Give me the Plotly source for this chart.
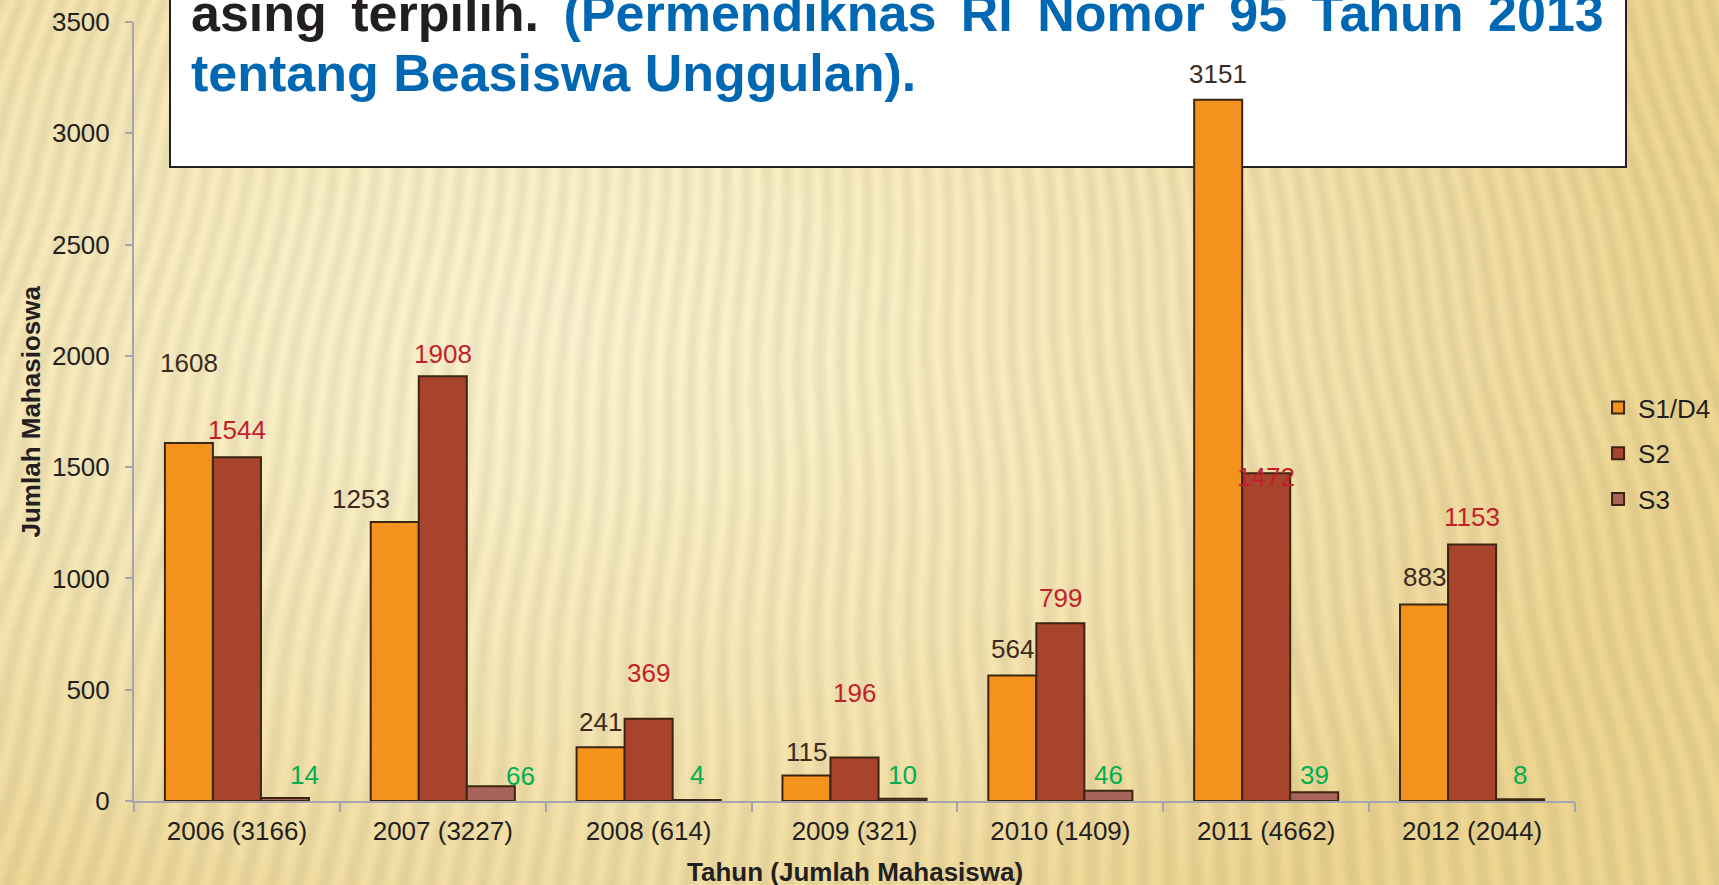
import numpy as np
import plotly.graph_objects as go
import zlib, struct, base64

# ---------------- data ----------------
categories = ["2006 (3166)", "2007 (3227)", "2008 (614)", "2009 (321)",
              "2010 (1409)", "2011 (4662)", "2012 (2044)"]
s1_d4 = [1608, 1253, 241, 115, 564, 3151, 883]
s2 = [1544, 1908, 369, 196, 799, 1472, 1153]
s3 = [14, 66, 4, 10, 46, 39, 8]
series_names = ["S1/D4", "S2", "S3"]
y_ticks = [0, 500, 1000, 1500, 2000, 2500, 3000, 3500]

# ---------------- style ----------------
W, H = 1719, 885
ML, MR, MT, MB = 134, 144, 22, 84
PW, PH = W - ML - MR, H - MT - MB
FONT = "Liberation Sans, Arial, sans-serif"
bar_colors = ["#F3931E", "#A8442B", "#A8645A"]
label_colors = ["#3D2B1F", "#C21F2C", "#00B050"]
outline = "#3A2612"
# label offsets (px) relative to bar top / bar centre
label_dy = [[80, 23, 25, 23, 26, 26, 27],
            [27, 22, 46, 64, 25, -4, 27],
            [23, 10, 25, 24, 16, 17, 24]]
label_dx = [[0, -34, 0, 0, 0, 0, 0],
            [0, 0, 0, 0, 0, 0, 0],
            [20, 30, 0, 0, 0, 0, 0]]


def png_data_uri(arr):
    h, w, _ = arr.shape
    raw = arr.astype(np.int16)
    sub = raw.copy()
    sub[:, 1:, :] = raw[:, 1:, :] - raw[:, :-1, :]
    sub = (sub % 256).astype(np.uint8).reshape(h, w * 3)
    rows = np.hstack([np.ones((h, 1), np.uint8), sub])
    data = zlib.compress(rows.tobytes(), 9)

    def chunk(t, d):
        return struct.pack(">I", len(d)) + t + d + struct.pack(">I", zlib.crc32(t + d) & 0xffffffff)

    ihdr = struct.pack(">IIBBBBB", w, h, 8, 2, 0, 0, 0)
    png = b"\x89PNG\r\n\x1a\n" + chunk(b"IHDR", ihdr) + chunk(b"IDAT", data) + chunk(b"IEND", b"")
    return "data:image/png;base64," + base64.b64encode(png).decode()


# striped paper-like background texture
step = 2
xs = np.arange(0, W, step, dtype=float)
ys = np.arange(0, H, step, dtype=float)
X, Y = np.meshgrid(xs, ys)
fx, fy = 860.0, -2600.0
theta = np.arctan2(X - fx, Y - fy)
stripe = 0.5 + 0.5 * np.sin(theta * 860 + 0.9 * np.sin(Y / 45.0) + 0.6 * np.sin(X / 130.0))
d = np.hypot((X - 560) / 1150.0, (Y - 320) / 720.0)
t = np.clip(d, 0, 1) ** 1.4
light = np.array([252, 243, 206], float)
dark = np.array([239, 215, 146], float)
col = light[None, None, :] * (1 - t[..., None]) + dark[None, None, :] * t[..., None]
col = col * (1 - 0.06 * stripe[..., None])
bg = np.clip(col, 0, 255).astype(np.uint8)
bg_uri = png_data_uri(bg)

fig = go.Figure()
for i, (name, vals) in enumerate(zip(series_names, [s1_d4, s2, s3])):
    fig.add_trace(go.Bar(
        x=categories, y=vals, name=name, legendgroup=name,
        marker=dict(color=bar_colors[i], line=dict(color=outline, width=2)),
        hoverinfo="x+y+name",
    ))

# data labels
cat_px = PW / len(categories)
bar_w = cat_px * 0.7 / 3
for i, vals in enumerate([s1_d4, s2, s3]):
    off = (i - 1) * bar_w
    for j, v in enumerate(vals):
        fig.add_annotation(
            x=categories[j], y=v, xref="x", yref="y", text=str(v), showarrow=False,
            xshift=off + label_dx[i][j], yshift=label_dy[i][j],
            xanchor="center", yanchor="middle",
            font=dict(family=FONT, size=26, color=label_colors[i]),
        )


def px_x(p):
    return (p - ML) / PW


def px_y(p):
    return (H - MB - p) / PH


# white text box at top
fig.add_shape(type="rect", xref="paper", yref="paper",
              x0=px_x(170), x1=px_x(1626), y0=px_y(167), y1=px_y(-20),
              fillcolor="white", line=dict(color="#222222", width=2), layer="below")

fig.add_annotation(
    xref="paper", yref="paper", x=px_x(189), y=px_y(13), xanchor="left", yanchor="middle",
    showarrow=False,
    text="<b><span style='word-spacing:10px'>asing terpilih. </span>"
         "<span style='color:#0068B3;word-spacing:10px'>(Permendiknas RI Nomor 95 Tahun 2013</span></b>",
    font=dict(family=FONT, size=52, color="#231F20"),
)
fig.add_annotation(
    xref="paper", yref="paper", x=px_x(189), y=px_y(73), xanchor="left", yanchor="middle",
    showarrow=False,
    text="<b>tentang Beasiswa Unggulan).</b>",
    font=dict(family=FONT, size=52, color="#0068B3"),
)

# axis titles
fig.add_annotation(
    xref="paper", yref="paper", x=px_x(30), y=0.5, xanchor="center", yanchor="middle",
    showarrow=False, textangle=-90, text="<b>Jumlah Mahasioswa</b>",
    font=dict(family=FONT, size=26, color="#231F20"),
)
fig.add_annotation(
    xref="paper", yref="paper", x=0.5, y=px_y(872), xanchor="center", yanchor="middle",
    showarrow=False, text="<b>Tahun (Jumlah Mahasiswa)</b>",
    font=dict(family=FONT, size=26, color="#231F20"),
)

fig.add_layout_image(
    source=bg_uri, xref="paper", yref="paper",
    x=-ML / PW, y=1 + MT / PH, sizex=W / PW, sizey=H / PH,
    xanchor="left", yanchor="top", sizing="stretch", layer="below",
)

fig.update_layout(
    width=W, height=H,
    margin=dict(l=ML, r=MR, t=MT, b=MB, autoexpand=False),
    paper_bgcolor="#F4E3AA", plot_bgcolor="rgba(0,0,0,0)",
    barmode="group", bargap=0.3, bargroupgap=0.0,
    font=dict(family=FONT, size=26, color="#231F20"),
    showlegend=True,
    legend=dict(x=1.016, xanchor="left", y=px_y(384), yanchor="top",
                bgcolor="rgba(0,0,0,0)", font=dict(family=FONT, size=26, color="#231F20"),
                traceorder="grouped", tracegroupgap=9),
)
fig.update_yaxes(
    range=[0, 3500], tickvals=y_ticks, showgrid=False, zeroline=False,
    showline=True, linecolor="#A3A6AE", linewidth=2,
    ticks="outside", ticklen=7, tickcolor="#A3A6AE", tickwidth=2,
    ticklabelstandoff=10, tickfont=dict(family=FONT, size=26, color="#231F20"),
)
fig.update_xaxes(
    showgrid=False, showline=True, linecolor="#A3A6AE", linewidth=2,
    ticks="outside", ticklen=9, tickcolor="#A3A6AE", tickwidth=2, tickson="boundaries",
    ticklabelstandoff=6, tickfont=dict(family=FONT, size=26, color="#231F20"),
)

fig.write_html(
    "out.html",
    config={"displayModeBar": False},
    post_script="document.body.style.margin='0px';document.body.style.overflow='hidden';",
)
